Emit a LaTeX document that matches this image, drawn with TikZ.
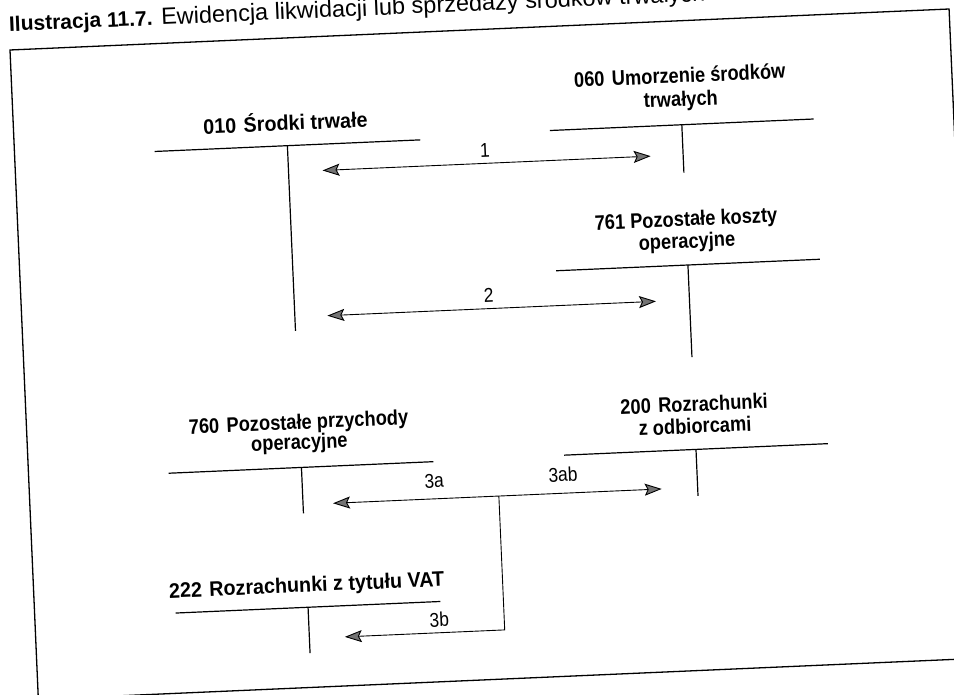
\documentclass[tikz,border=0pt]{standalone}
\usepackage{fontspec}
\setmainfont{Liberation Sans}
\newfontfamily\condfont{Liberation Sans}[FakeStretch=0.87]
\newfontfamily\condfontw{Liberation Sans}[FakeStretch=0.94]
\usetikzlibrary{arrows.meta}
\tikzset{Gt/.tip={Stealth[length=17pt,width=12pt,inset=3pt,fill=black!55]}}
\newcommand{\twoline}[3][0pt]{\begin{tabular}[b]{@{}c@{}}#2\\[#1]#3\end{tabular}}
\begin{document}
\begin{tikzpicture}[x=1pt,y=-1pt,
  tline/.style={line width=1.2pt},
  frm/.style={line width=1.3pt},
  arr/.style={line width=0.9pt},
  lab/.style={anchor=base,font=\condfont\bfseries\fontsize{21}{22}\selectfont},
  labw/.style={anchor=base,font=\condfontw\bfseries\fontsize{21}{22}\selectfont},
  num/.style={anchor=base,font=\condfont\fontsize{20}{24}\selectfont}]
\useasboundingbox (0,0) rectangle (954,695);
\clip (0,0) rectangle (954,695);
\fill[white] (0,0) rectangle (954,695);
\begin{scope}[shift={(10,50)}, rotate=2.5, every node/.style={transform shape, inner sep=0pt}]
  % title
  \node[anchor=base west] (title) at (0,-18.5)
    {\textbf{\fontsize{21}{25}\selectfont Ilustracja 11.7.}\fontsize{23.5}{25}\selectfont{} Ewidencja likwidacji lub sprzedaży środków trwałych};
  % frame
  \draw[frm] (0,0) rectangle (940,650);
  % T accounts
  \coordinate (t010l) at (140,107.7); \coordinate (t010r) at (406,107.7);
  \coordinate (t010t) at (273,107.7); \coordinate (t010b) at (273,293);
  \coordinate (t060l) at (536,104); \coordinate (t060r) at (800,104);
  \coordinate (t060t) at (668,104); \coordinate (t060b) at (668,152);
  \coordinate (t761l) at (536,244.4); \coordinate (t761r) at (800,244.4);
  \coordinate (t761t) at (668,244.4); \coordinate (t761b) at (668,336.7);
  \coordinate (t760l) at (140,429.8); \coordinate (t760r) at (405,429.8);
  \coordinate (t760t) at (273,429.8); \coordinate (t760b) at (273,475.7);
  \coordinate (t200l) at (536,429); \coordinate (t200r) at (800,429);
  \coordinate (t200t) at (668,429); \coordinate (t200b) at (668,475.6);
  \coordinate (t222l) at (141,569.8); \coordinate (t222r) at (406,569.8);
  \coordinate (t222t) at (273.5,569.8); \coordinate (t222b) at (273.5,615.8);
  \foreach \a in {010,060,761,760,200,222}{
    \draw[tline] (t\a l) -- (t\a r);
    \draw[tline] (t\a t) -- (t\a b);
  }
  % account labels
  \node[labw] (l010) at (272,92.5) {010\hspace{0.35em}Środki trwałe};
  \node[lab] (l060) at (668,85.5) {\twoline[1.5pt]{060\hspace{0.35em}Umorzenie środków}{trwałych}};
  \node[lab] (l761) at (668,227.5) {\twoline{761 Pozostałe koszty}{operacyjne}};
  \node[lab] (l760) at (272,411.5) {\twoline[-2pt]{760\hspace{0.35em}Pozostałe przychody}{operacyjne}};
  \node[lab] (l200) at (668,412.8) {\twoline{200\hspace{0.35em}Rozrachunki}{z odbiorcami}};
  \node[labw] (l222) at (273,554.5) {222\hspace{0.35em}Rozrachunki z tytułu VAT};
  % arrows
  \coordinate (a1l) at (307,134); \coordinate (a1r) at (635.5,134);
  \coordinate (a2l) at (305.5,279.3); \coordinate (a2r) at (634.5,279.3);
  \coordinate (a3l) at (303,467); \coordinate (a3r) at (632,467);
  \coordinate (j3) at (469,467); \coordinate (j3b) at (469,601);
  \coordinate (a3b) at (309,601);
  \draw[arr,Gt-Gt] (a1l) -- (a1r);
  \draw[arr,Gt-Gt] (a2l) -- (a2r);
  \draw[arr,Gt-Gt] (a3l) -- (a3r);
  \draw[arr,-Gt] (j3) -- (j3b) -- (a3b);
  % arrow labels
  \node[num] (n1) at (470,127.8) {1};
  \node[num] (n2) at (467.5,273) {2};
  \node[num] (n3a) at (405,456) {3a};
  \node[num] (n3ab) at (534,455.4) {3ab};
  \node[num] (n3b) at (404,594.9) {3b};
\end{scope}
\end{tikzpicture}
\end{document}
